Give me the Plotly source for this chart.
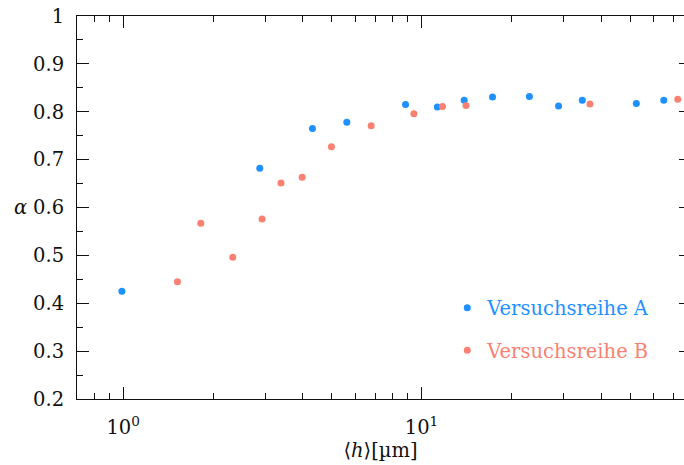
import math
import plotly.graph_objects as go

# Versuchsreihe A
h_a = [0.99, 2.87, 4.31, 5.62, 8.84, 11.3, 13.9, 17.3, 23.0, 28.8, 34.6, 52.5, 64.9]
alpha_a = [0.425, 0.682, 0.765, 0.778, 0.815, 0.810, 0.824, 0.831, 0.832, 0.812, 0.824, 0.817, 0.824]

# Versuchsreihe B
h_b = [1.52, 1.82, 2.33, 2.92, 3.38, 3.98, 4.99, 6.78, 9.43, 11.76, 14.1, 36.7, 72.3]
alpha_b = [0.445, 0.567, 0.496, 0.576, 0.651, 0.663, 0.727, 0.771, 0.796, 0.811, 0.813, 0.816, 0.826]

label_a = "Versuchsreihe A"
label_b = "Versuchsreihe B"
color_a = "#1E90FF"
color_b = "#FA8072"

x_major = [1, 10]
x_major_text = ["10<sup>0</sup>", "10<sup>1</sup>"]
x_minor = [0.7, 0.8, 0.9, 2, 3, 4, 5, 6, 7, 8, 9, 20, 30, 40, 50, 60, 70, 80]

FONT = "DejaVu Serif"
FS = 19.5
INK = "#111111"

fig = go.Figure()
fig.add_trace(go.Scatter(
    x=h_a, y=alpha_a, mode="markers", name=f"<span style='color:{color_a}'>{label_a}</span>",
    marker=dict(color=color_a, size=7, line=dict(width=0)), legendgroup="a"))
fig.add_trace(go.Scatter(
    x=h_b, y=alpha_b, mode="markers", name=f"<span style='color:{color_b}'>{label_b}</span>",
    marker=dict(color=color_b, size=7, line=dict(width=0)), legendgroup="b"))
# helper trace so the right-hand tick axis is drawn
fig.add_trace(go.Scatter(x=[None], y=[None], yaxis="y2", showlegend=False, hoverinfo="skip"))

x0 = math.log10(0.7)
px_per_decade = 298.3
plot_w = 684 - 77
x1 = x0 + plot_w / px_per_decade

fig.update_layout(
    width=684, height=465,
    margin=dict(l=77, r=0, t=16, b=66),
    paper_bgcolor="white", plot_bgcolor="white",
    font=dict(family=FONT, size=FS, color=INK),
    showlegend=True,
    legend=dict(x=0.61, y=0.288, xanchor="left", yanchor="top",
                bgcolor="rgba(0,0,0,0)", font=dict(size=FS),
                traceorder="grouped", tracegroupgap=14),
    xaxis=dict(
        type="log", range=[x0, x1],
        showgrid=False, zeroline=False,
        showline=True, linecolor=INK, linewidth=1, mirror="ticks",
        ticks="inside", ticklen=12, tickwidth=1, tickcolor=INK,
        tickmode="array", tickvals=x_major, ticktext=x_major_text,
        ticklabelstandoff=11,
        minor=dict(ticks="inside", ticklen=6, tickwidth=1, tickcolor=INK,
                   tickmode="array", tickvals=x_minor, showgrid=False),
        title=dict(text="⟨<i>h</i>⟩[µm]", font=dict(size=FS), standoff=3),
    ),
    yaxis=dict(
        range=[0.2, 1.0], dtick=0.1, tick0=0.2,
        showgrid=False, zeroline=False,
        showline=True, linecolor=INK, linewidth=1, mirror=False,
        ticks="inside", ticklen=12, tickwidth=1, tickcolor=INK,
        ticklabelstandoff=8,
        minor=dict(ticks="inside", ticklen=6, tickwidth=1, tickcolor=INK,
                   dtick=0.05, showgrid=False),
    ),
    yaxis2=dict(
        overlaying="y", side="right", anchor="x",
        range=[0.2, 1.0], dtick=0.1, tick0=0.2,
        showgrid=False, zeroline=False, showline=False,
        ticks="inside", ticklen=5, tickwidth=1, tickcolor=INK,
        showticklabels=False,
    ),
    annotations=[dict(
        text="<i>α</i>", xref="paper", yref="paper",
        x=(20 - 77) / plot_w, y=0.5, xanchor="center", yanchor="middle",
        showarrow=False, font=dict(size=FS, family=FONT, color=INK))],
)

fig.write_html("out.html")
